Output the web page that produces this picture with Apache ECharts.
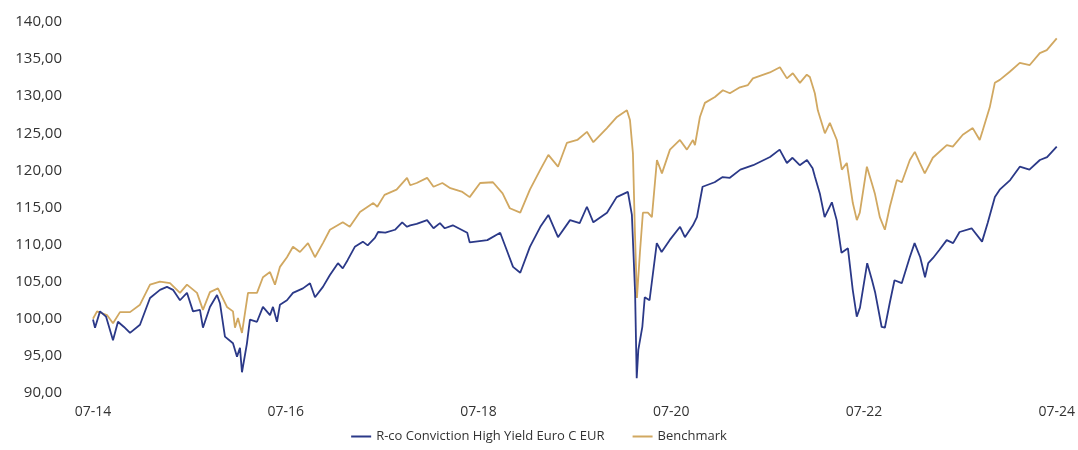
<!DOCTYPE html>
<html>
<head>
<meta charset="utf-8">
<script src="https://cdn.jsdelivr.net/npm/echarts@6/dist/echarts.min.js"></script>
<style>html,body{margin:0;padding:0;background:#fff;}#chart{width:1078px;height:450px;}</style>
</head>
<body>
<div id="chart"></div>
<script>
// x = months since July 2014
const xTickLabels = ['07-14', '07-16', '07-18', '07-20', '07-22', '07-24'];
const fundName = 'R-co Conviction High Yield Euro C EUR';
const benchName = 'Benchmark';

const fundX = [0,0.25,0.87,1.62,2.49,3.11,3.86,4.61,5.85,7.1,8.34,9.21,9.96,10.83,11.7,12.45,13.32,13.69,14.56,15.44,15.81,16.43,17.43,17.93,18.3,18.55,19.17,19.54,20.42,21.16,22.04,22.41,22.91,23.28,24.15,24.9,26.14,27.02,27.64,28.63,29.5,30.5,31.1,31.7,32.6,33.6,34.2,35.1,35.5,36.4,37.6,38.5,39.1,39.5,40.3,41.6,42.4,43.2,43.8,44.8,46.6,46.9,49.1,50.7,51.5,52.3,53.2,54.4,55.7,56.7,57.9,59.4,60.6,61.5,62.3,64.0,65.2,66.6,67.1,67.5,67.7,67.9,68.4,68.7,69.3,70.2,70.8,71.8,73.1,73.7,74.7,75.2,75.9,77.4,78.4,79.3,80.6,82.2,84.3,85.5,86.4,87.1,88.0,88.9,89.6,89.9,90.5,91.1,92.0,92.6,93.2,94.0,94.6,95.1,95.5,96.4,97.0,97.4,98.2,98.6,99.2,99.8,100.7,101.7,102.3,103.0,103.6,104.0,104.6,105.4,106.3,107.1,107.9,109.4,110.7,111.4,112.3,112.9,114.2,115.4,116.6,117.9,118.8,120];
const fundY = [99.9,98.8,101.0,100.3,97.1,99.6,98.9,98.1,99.2,102.8,103.9,104.3,103.9,102.5,103.5,101.0,101.2,98.8,101.6,103.2,102.1,97.6,96.7,94.9,96.1,92.8,96.7,99.9,99.6,101.6,100.5,101.6,99.6,101.9,102.5,103.5,104.1,104.8,102.9,104.3,105.9,107.5,106.8,107.9,109.7,110.4,109.9,110.9,111.7,111.6,112.0,113.0,112.4,112.6,112.8,113.3,112.2,112.9,112.2,112.6,111.6,110.3,110.6,111.6,109.3,107.0,106.2,109.7,112.4,114.0,111.0,113.3,112.9,115.1,113.0,114.3,116.4,117.1,114.0,103.5,92.0,95.8,98.9,102.9,102.5,110.2,109.0,110.6,112.4,111.0,112.6,113.7,117.8,118.4,119.1,119.0,120.1,120.7,121.8,122.8,121.0,121.7,120.7,121.4,120.3,119.1,116.9,113.7,115.7,113.3,108.9,109.5,103.9,100.3,101.5,107.5,105.2,103.5,98.9,98.8,102.1,105.2,104.8,108.3,110.2,108.3,105.6,107.5,108.2,109.3,110.6,110.2,111.7,112.2,110.4,112.9,116.4,117.4,118.7,120.5,120.1,121.4,121.8,123.2];

const benchX = [0,0.5,1.74,2.49,3.36,4.61,5.85,7.1,8.34,9.59,10.83,11.7,12.95,13.69,14.56,15.56,16.68,17.43,17.68,18.05,18.55,19.3,20.42,21.16,22.04,22.66,23.28,24.15,24.9,25.77,26.77,27.64,28.63,29.5,31.1,31.97,33.24,34.9,35.4,36.3,37.8,39.1,39.5,40.3,41.6,42.4,43.5,44.5,46.0,46.9,48.2,49.8,51.0,51.9,53.2,54.4,55.7,56.7,57.9,59.0,60.3,61.5,62.3,63.99,65.24,66.48,66.86,67.23,67.48,67.73,68.1,68.47,69.09,69.59,70.22,70.84,71.84,73.08,73.95,74.7,74.95,75.57,76.19,77.44,78.43,79.3,80.55,81.55,82.17,84.28,85.53,86.4,87.14,88.02,88.88,89.26,89.88,90.25,91.13,91.75,92.62,93.24,93.86,94.61,95.11,95.48,96.36,96.97,97.35,97.97,98.6,99.22,100.09,100.71,101.71,102.33,102.95,103.57,104.57,106.31,107.06,108.3,109.54,110.41,110.79,111.66,112.29,112.91,114.15,115.4,116.64,117.89,118.76,120];
const benchY = [100.0,101.0,100.5,99.4,100.9,100.9,101.9,104.6,105.0,104.8,103.5,104.6,103.5,101.2,103.6,104.1,101.6,101.0,98.8,100.1,98.1,103.5,103.5,105.6,106.3,104.6,107.0,108.3,109.7,109.0,110.2,108.3,110.2,112.0,113.0,112.4,114.4,115.6,115.1,116.7,117.4,119.0,118.0,118.3,119.0,117.8,118.3,117.6,117.1,116.4,118.3,118.4,116.9,114.9,114.3,117.4,120.1,122.1,120.5,123.7,124.1,125.2,123.8,125.7,127.2,128.1,126.8,122.3,111.6,102.8,108.9,114.3,114.3,113.7,121.4,119.6,122.8,124.1,122.8,124.1,123.4,127.2,129.1,129.9,130.8,130.4,131.2,131.5,132.4,133.2,133.9,132.4,133.1,131.8,132.9,132.6,130.4,128.1,125.0,126.4,124.1,120.1,121.0,115.6,113.3,114.3,120.5,118.3,116.9,113.7,112.0,115.1,118.7,118.4,121.4,122.5,121.0,119.6,121.7,123.4,123.2,124.8,125.7,124.1,125.4,128.5,131.8,132.2,133.3,134.5,134.2,135.8,136.2,137.8];

const fundData = fundX.map((x, i) => [x, fundY[i]]);
const benchData = benchX.map((x, i) => [x, benchY[i]]);

const chart = echarts.init(document.getElementById('chart'));
const font = 'Open Sans';
chart.setOption({
  animation: false,
  backgroundColor: '#fff',
  textStyle: { fontFamily: font },
  grid: { left: 93, right: 21, top: 22, bottom: 57 },
  legend: {
    bottom: 2,
    left: 'center',
    itemWidth: 20,
    itemHeight: 2,
    itemGap: 28,
    icon: 'rect',
    textStyle: { fontFamily: font, fontSize: 13, color: '#333' },
    data: [fundName, benchName]
  },
  xAxis: {
    type: 'value',
    min: 0,
    max: 120,
    interval: 24,
    axisLine: { show: false },
    axisTick: { show: false },
    splitLine: { show: false },
    axisLabel: {
      margin: 12,
      fontFamily: font,
      fontSize: 14,
      color: '#333',
      formatter: v => xTickLabels[Math.round(v / 24)] || ''
    }
  },
  yAxis: {
    type: 'value',
    min: 90,
    max: 140,
    interval: 5,
    axisLine: { show: false },
    axisTick: { show: false },
    splitLine: { show: false },
    axisLabel: {
      margin: 31,
      fontFamily: font,
      fontSize: 15,
      color: '#333',
      formatter: v => v.toFixed(2).replace('.', ',')
    }
  },
  series: [
    {
      name: fundName,
      type: 'line',
      data: fundData,
      showSymbol: false,
      lineStyle: { color: '#2b3988', width: 1.8 },
      itemStyle: { color: '#2b3988' },
      z: 3
    },
    {
      name: benchName,
      type: 'line',
      data: benchData,
      showSymbol: false,
      lineStyle: { color: '#d1a861', width: 1.8 },
      itemStyle: { color: '#d1a861' },
      z: 2
    }
  ]
});
</script>
</body>
</html>
